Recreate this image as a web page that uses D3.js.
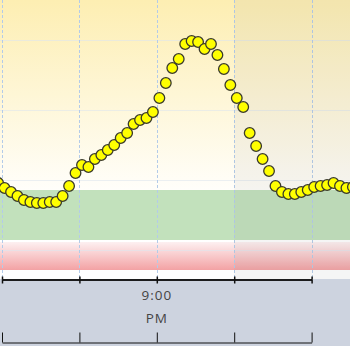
<!DOCTYPE html>
<html><head><meta charset="utf-8">
<script src="https://cdn.jsdelivr.net/npm/d3@7"></script>
<style>html,body{margin:0;padding:0;background:#fff;overflow:hidden}svg{display:block}</style>
</head><body><svg id="c" width="350" height="346"></svg>
<script>
// readings every 5 minutes (mg/dL)
const times = ["18:57","19:02","19:07","19:12","19:17","19:22","19:27","19:32","19:37","19:42",
"19:47","19:52","19:57","20:02","20:07","20:12","20:17","20:22","20:27","20:32",
"20:37","20:42","20:47","20:52","20:57","21:02","21:07","21:12","21:17","21:22",
"21:27","21:32","21:37","21:42","21:47","21:52","21:57","22:02","22:07","22:12",
"22:17","22:22","22:27","22:32","22:37","22:42","22:47","22:52","22:57","23:02",
"23:07","23:12","23:17","23:22","23:27","23:32"];
const values = [137,132,128,124,120,118,117,117,118,118,
124,134,147,155,153,161,165,170,175,182,
187,196,200,202,208,222,237,252,261,276,
279,278,271,276,265,251,235,222,213,187,
174,161,149,134,128,126,126,128,130,133,
134,135,137,134,132,133];
const gridValues = [70,140,210,280];
const targetRange = [80,130];
const lowRange = [50,78];
const shadedFrom = "22:00";
const tickHours = ["19:00","20:00","21:00","22:00","23:00"];
const tickLabels = {"21:00":["9:00","PM"]};

const parseT = s => { const [h,m] = s.split(":").map(Number); return new Date(2020,0,1,h,m); };
const W = 350, plotBottom = 279;
const x = d3.scaleTime().domain([parseT("19:00"), parseT("23:00")]).range([2, 311.6]);
const y = d3.scaleLinear().domain([40, 320]).range([280, 0]);

const svg = d3.select("#c");
const defs = svg.append("defs");
const gTop = defs.append("linearGradient").attr("id","gTop").attr("x1",0).attr("x2",0).attr("y1",0).attr("y2",1);
gTop.append("stop").attr("offset","0%").attr("stop-color","#fdeeb2");
gTop.append("stop").attr("offset","100%").attr("stop-color","#fffefa");
const gLow = defs.append("linearGradient").attr("id","gLow").attr("x1",0).attr("x2",0).attr("y1",0).attr("y2",1);
gLow.append("stop").attr("offset","0%").attr("stop-color","#fdf0f1");
gLow.append("stop").attr("offset","100%").attr("stop-color","#f3a2a4");

// background
svg.append("rect").attr("x",0).attr("y",0).attr("width",W).attr("height",plotBottom).attr("fill","#fff");
svg.append("rect").attr("x",0).attr("y",0).attr("width",W).attr("height",y(targetRange[1])).attr("fill","url(#gTop)");
svg.append("rect").attr("x",0).attr("y",y(targetRange[1])).attr("width",W)
  .attr("height",y(targetRange[0])-y(targetRange[1])).attr("fill","#c2e1bc");
svg.append("rect").attr("x",0).attr("y",y(lowRange[1])).attr("width",W)
  .attr("height",y(lowRange[0])-y(lowRange[1])).attr("fill","url(#gLow)");

// grid
svg.append("g").selectAll("line").data(gridValues).join("line")
  .attr("x1",0).attr("x2",W).attr("y1",d=>Math.round(y(d))+0.5).attr("y2",d=>Math.round(y(d))+0.5)
  .attr("stroke","#dfe6ee").attr("stroke-width",1.2).attr("opacity",0.6);
svg.append("g").selectAll("line").data(tickHours).join("line")
  .attr("x1",d=>Math.round(x(parseT(d)))+0.5).attr("x2",d=>Math.round(x(parseT(d)))+0.5)
  .attr("y1",0).attr("y2",plotBottom)
  .attr("stroke","#b3cbe9").attr("stroke-width",1).attr("stroke-dasharray","3,2");

// shaded region
svg.append("rect").attr("x",x(parseT(shadedFrom))).attr("y",0)
  .attr("width",W-x(parseT(shadedFrom))).attr("height",plotBottom)
  .attr("fill","#808080").attr("opacity",0.08);

// points
svg.append("g").selectAll("circle").data(times.map((t,i)=>({t:parseT(t),v:values[i]}))).join("circle")
  .attr("cx",d=>x(d.t)).attr("cy",d=>y(d.v)).attr("r",5.3)
  .attr("fill","#ffff00").attr("stroke","#3a3a2a").attr("stroke-width",1.3);

// axis panel
svg.append("rect").attr("x",0).attr("y",plotBottom).attr("width",W).attr("height",346-plotBottom).attr("fill","#cdd3df");
const tickDates = tickHours.map(parseT);
const ax1 = svg.append("g").attr("transform",`translate(0,${plotBottom+0.5})`)
  .call(d3.axisBottom(x).tickValues(tickDates).tickSize(4).tickSizeOuter(0).tickFormat(""));
const ax1b = svg.append("g").attr("transform",`translate(0,${plotBottom+0.5})`)
  .call(d3.axisTop(x).tickValues(tickDates).tickSize(3).tickSizeOuter(0).tickFormat(""));
const ax2 = svg.append("g").attr("transform",`translate(0,342.5)`)
  .call(d3.axisTop(x).tickValues(tickDates).tickSize(10).tickSizeOuter(0).tickFormat(""));
[ax1,ax1b,ax2].forEach(a=>{
  a.select(".domain").attr("stroke","#111").attr("stroke-width",1.5);
  a.selectAll(".tick line").attr("stroke","#111").attr("stroke-width",1.5);
});
ax2.select(".domain").attr("stroke-width",1);
ax2.selectAll(".tick line").attr("stroke-width",1);

// labels
const lab = svg.append("g").selectAll("text").data(Object.keys(tickLabels)).join("text")
  .attr("x",d=>x(parseT(d))).attr("text-anchor","middle")
  .attr("font-family","'Open Sans', 'Noto Sans', sans-serif").attr("font-size",13.5).attr("fill","#444")
  .attr("letter-spacing",1);
lab.each(function(d){
  const t = d3.select(this);
  tickLabels[d].forEach((s,i)=>t.append("tspan").attr("x",x(parseT(d))).attr("y",300+i*23).text(s));
});
</script></body></html>
